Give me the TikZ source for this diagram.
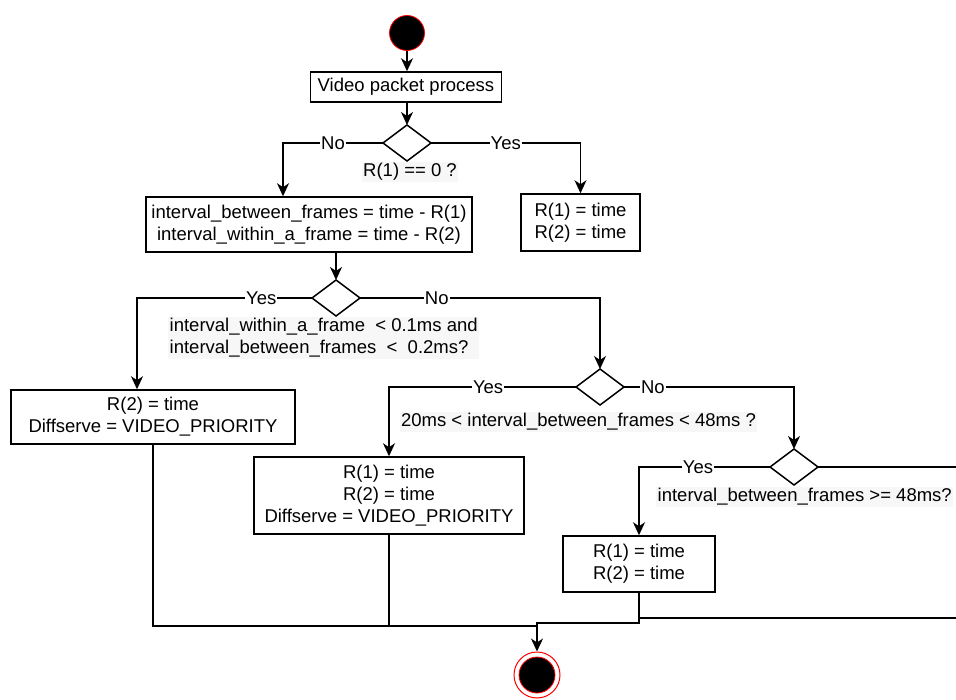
\documentclass[tikz,border=0pt]{standalone}
\usepackage{fontspec}
\setmainfont{Liberation Sans}
\usetikzlibrary{arrows.meta}

\tikzset{
  txt/.style={font=\fontsize{18.5}{22}\selectfont},
  conn/.style={line width=1.5pt, black},
  arr/.style={conn, -{Stealth[length=13pt,width=12pt,inset=4pt]}},
  actbox/.style={txt, draw, line width=1.5pt, align=center, inner sep=0pt},
  yn/.style={txt, fill=white, inner sep=1pt},
  cond/.style={txt, fill=black!3, inner sep=1.5pt},
}

\begin{document}
\begin{tikzpicture}[x=1pt, y=-1pt]
\clip (0,0) rectangle (956,700);
\fill[white] (0,0) rectangle (956,700);

% start and end states
\node[circle, fill=black, draw=red, line width=0.8pt, minimum size=35pt, inner sep=0pt] (start) at (407,33) {};
\node[circle, draw=red, line width=1pt, minimum size=46pt, inner sep=0pt] (endo) at (537,675) {};
\node[circle, fill=black, draw=red, line width=0.8pt, minimum size=36pt, inner sep=0pt] (endi) at (537,675) {};

% action boxes
\node[actbox, minimum width=191pt, minimum height=30pt] (vpp) at (406,87) {Video packet process};
\node[actbox, minimum width=326pt, minimum height=55pt] (intv) at (309,224.5)
  {interval\_between\_frames = time - R(1)\\ interval\_within\_a\_frame = time - R(2)};
\node[actbox, minimum width=119pt, minimum height=57pt] (rinit) at (580.5,222.5) {R(1) = time\\ R(2) = time};
\node[actbox, minimum width=284pt, minimum height=54pt] (leftbox) at (153,417) {R(2) = time\\ Diffserve = VIDEO\_PRIORITY};
\node[actbox, minimum width=270pt, minimum height=77pt] (midbox) at (389,495.5) {R(1) = time\\ R(2) = time\\ Diffserve = VIDEO\_PRIORITY};
\node[actbox, minimum width=152pt, minimum height=56pt] (smallbox) at (639,564) {R(1) = time\\ R(2) = time};

% decision diamonds (48 x 36) with their four corners
\foreach \nm/\cx/\cy in {d1/407/143, d2/336/298, d3/600/387, d4/794/467}{
  \coordinate (\nm) at (\cx,\cy);
  \coordinate (\nm-n) at (\cx,\cy-18);
  \coordinate (\nm-s) at (\cx,\cy+18);
  \coordinate (\nm-w) at (\cx-24,\cy);
  \coordinate (\nm-e) at (\cx+24,\cy);
  \draw[conn, line join=miter] (\nm-n) -- (\nm-e) -- (\nm-s) -- (\nm-w) -- cycle;
}

% condition texts
\node[cond] (c1) at (410,172) {R(1) == 0 ?};
\node[cond, anchor=west, align=left] (c2) at (168,338)
  {interval\_within\_a\_frame\ \ < 0.1ms and\\ interval\_between\_frames\ \ <\ \ 0.2ms?};
\node[cond] (c3) at (578.5,422) {20ms < interval\_between\_frames < 48ms ?};
\node[cond, anchor=west] (c4) at (656,497) {interval\_between\_frames >= 48ms?};

% bend points
\coordinate (b1) at (283,143);
\coordinate (b2) at (580.5,143);
\coordinate (b3) at (137,298);
\coordinate (b4) at (600,298);
\coordinate (b5) at (389,387);
\coordinate (b6) at (794,387);
\coordinate (b7) at (639,467);
\coordinate (ro1) at (975,467);
\coordinate (ro2) at (975,618);
\coordinate (jn) at (537,626);
\coordinate (jn2) at (537,623);

% flow
\draw[arr] (start) -- (start |- vpp.north);
\draw[arr] (d1 |- vpp.south) -- (d1-n);
\draw[arr] (d1-w) -- node[yn, pos=0.5] {No} (b1) -- (b1 |- intv.north);
\draw[arr] (d1-e) -- node[yn, pos=0.5] {Yes} (b2) -- (rinit.north);
\draw[arr] (d2 |- intv.south) -- (d2-n);
\draw[arr] (d2-w) -- node[yn, pos=0.29] {Yes} (b3) -- (b3 |- leftbox.north);
\draw[arr] (d2-e) -- node[yn, pos=0.32] {No} (b4) -- (d3-n);
\draw[arr] (d3-w) -- node[yn, pos=0.47] {Yes} (b5) -- (midbox.north);
\draw[arr] (d3-e) -- node[yn, pos=0.17] {No} (b6) -- (d4-n);
\draw[arr] (d4-w) -- node[yn, pos=0.55] {Yes} (b7) -- (smallbox.north);

% merging into the final state
\draw[conn] (leftbox.south) |- (jn);
\draw[conn] (midbox.south) -- (midbox.south |- jn);
\draw[conn] (d4-e) -- (ro1) -- (ro2) -- (ro2 -| smallbox.south) -- (smallbox.south |- jn2);
\draw[arr] (smallbox.south) |- (jn2) -- (endo.north);
\end{tikzpicture}
\end{document}
